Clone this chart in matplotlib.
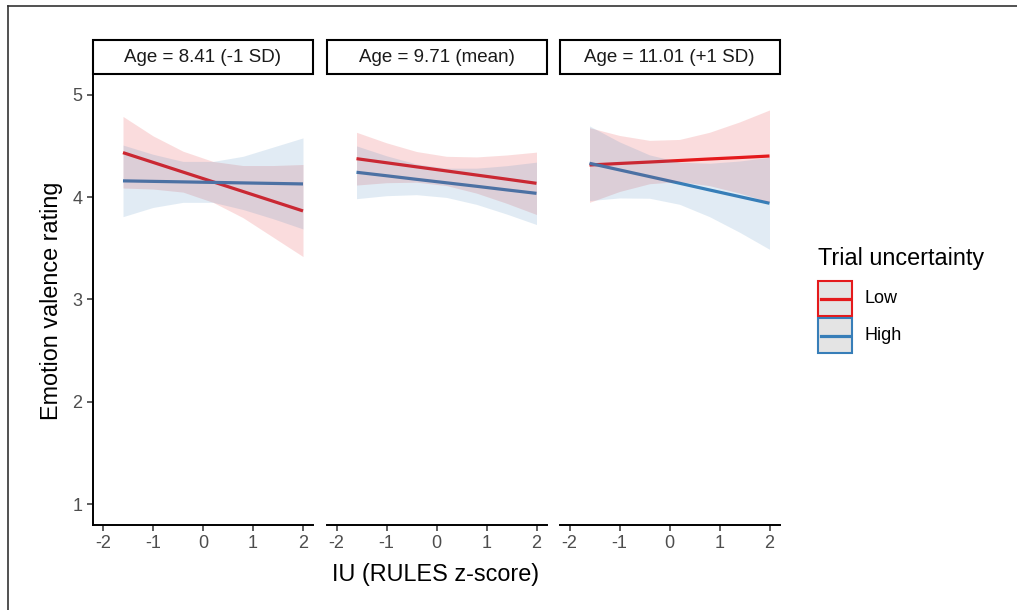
import matplotlib
matplotlib.use('Agg')
import matplotlib.pyplot as plt
from matplotlib.patches import Rectangle
from matplotlib.lines import Line2D

plt.rcParams['font.family'] = ['Liberation Sans', 'DejaVu Sans']
plt.rcParams['axes.unicode_minus'] = False

# --- data ----------------------------------------------------------------
PANELS = ['Age = 8.41 (-1 SD)', 'Age = 9.71 (mean)', 'Age = 11.01 (+1 SD)']
GROUPS = ['Low', 'High']
IU = [-1.6, -1.0, -0.4, 0.2, 0.8, 1.4, 2.0]
X_TICKS = [-2, -1, 0, 1, 2]
X_TICKLABELS = ['-2', '-1', '0', '1', '2']
Y_TICKS = [1, 2, 3, 4, 5]

# fitted lines (per panel)
low_fit = [
    [4.436, 4.341, 4.246, 4.151, 4.056, 3.961, 3.866],
    [4.377, 4.337, 4.297, 4.257, 4.217, 4.177, 4.136],
    [4.315, 4.330, 4.344, 4.359, 4.374, 4.388, 4.403],
]
high_fit = [
    [4.160, 4.155, 4.150, 4.145, 4.140, 4.135, 4.130],
    [4.244, 4.210, 4.175, 4.141, 4.107, 4.072, 4.038],
    [4.332, 4.267, 4.202, 4.137, 4.071, 4.006, 3.941],
]
# 95% CI bands
low_upper = [
    [4.79, 4.60, 4.45, 4.35, 4.31, 4.31, 4.32],
    [4.635, 4.532, 4.447, 4.400, 4.394, 4.413, 4.441],
    [4.680, 4.604, 4.556, 4.565, 4.635, 4.736, 4.853],
]
low_lower = [
    [4.09, 4.08, 4.05, 3.95, 3.80, 3.61, 3.42],
    [4.119, 4.142, 4.147, 4.114, 4.040, 3.941, 3.831],
    [3.950, 4.056, 4.132, 4.153, 4.113, 4.040, 3.953],
]
high_upper = [
    [4.51, 4.42, 4.35, 4.35, 4.40, 4.49, 4.58],
    [4.502, 4.405, 4.325, 4.284, 4.284, 4.308, 4.343],
    [4.697, 4.541, 4.414, 4.343, 4.332, 4.354, 4.391],
]
high_lower = [
    [3.81, 3.90, 3.95, 3.95, 3.88, 3.79, 3.69],
    [3.986, 4.015, 4.025, 3.998, 3.930, 3.836, 3.733],
    [3.967, 3.993, 3.990, 3.931, 3.810, 3.658, 3.491],
]

COLORS = {'Low': '#E41A1C', 'High': '#377EB8'}
TICK_GREY = '#4d4d4d'

W, H = 1017, 610


def fx(p):
    return p / W


def fy(p):
    return 1 - p / H


fig = plt.figure(figsize=(W / 100, H / 100), dpi=100)

# outer frame (only top and left edges are visible in the source)
fig.add_artist(Line2D([fx(8.3), 1], [fy(5.5), fy(5.5)], transform=fig.transFigure,
                      color='#333333', lw=1.2))
fig.add_artist(Line2D([fx(8.3), fx(8.3)], [fy(5.5), 0], transform=fig.transFigure,
                      color='#333333', lw=1.2))

panel_x0 = [93, 326.5, 559.5]
pw, top_px, bot_px = 220, 74.5, 524.5

series = {'Low': (low_fit, low_lower, low_upper),
          'High': (high_fit, high_lower, high_upper)}

for i, title in enumerate(PANELS):
    ax = fig.add_axes([fx(panel_x0[i]), fy(bot_px), pw / W, (bot_px - top_px) / H])
    for g in GROUPS:
        fit, lo, hi = series[g]
        ax.plot(IU, fit[i], color=COLORS[g], lw=2.3, zorder=2, solid_capstyle='butt')
    # ribbons sit above the lines, as in the source
    for g in GROUPS:
        fit, lo, hi = series[g]
        ax.fill_between(IU, lo[i], hi[i], color=COLORS[g], alpha=0.15, lw=0, zorder=3)

    ax.set_xlim(-2.2, 2.2)
    ax.set_ylim(0.8, 5.2)
    ax.set_xticks(X_TICKS)
    ax.set_xticklabels(X_TICKLABELS)
    ax.set_yticks(Y_TICKS)
    ax.set_yticklabels([str(v) for v in Y_TICKS])
    for s in ['top', 'right']:
        ax.spines[s].set_visible(False)
    ax.spines['bottom'].set_linewidth(1.4)
    ax.spines['left'].set_linewidth(1.4)
    ax.tick_params(direction='out', length=4.5, width=1.1, color='#333333',
                   labelsize=13, labelcolor=TICK_GREY, pad=3)
    if i > 0:
        ax.spines['left'].set_visible(False)
        ax.tick_params(left=False, labelleft=False)
    ax.patch.set_alpha(0)

    # facet strip
    fig.add_artist(Rectangle((fx(panel_x0[i]), fy(73.5)), pw / W, 33.5 / H,
                             transform=fig.transFigure, facecolor='white',
                             edgecolor='black', lw=1.5))
    fig.text(fx(panel_x0[i] + pw / 2), fy(57), title, ha='center', va='center',
             fontsize=13.5, color='#1a1a1a')

fig.text(fx(52), fy(301), 'Emotion valence rating', rotation=90, ha='center',
         va='center', fontsize=16.8)
fig.text(fx(436), fy(574), 'IU (RULES z-score)', ha='center', va='center', fontsize=16.8)

# legend
fig.text(fx(818), fy(258), 'Trial uncertainty', ha='left', va='center', fontsize=16.8)
key_top = [281, 318]
for g, kt in zip(GROUPS, key_top):
    fig.add_artist(Rectangle((fx(817.5), fy(kt + 35)), 34 / W, 35 / H,
                             transform=fig.transFigure, facecolor='#e4e4e4',
                             edgecolor=COLORS[g], lw=1.5))
    fig.add_artist(Line2D([fx(820.5), fx(848.5)], [fy(kt + 17.5), fy(kt + 17.5)],
                          transform=fig.transFigure, color=COLORS[g], lw=2.3))
    fig.text(fx(864), fy(kt + 17.5), g, ha='left', va='center', fontsize=13)

fig.savefig('out.png', dpi=100)
